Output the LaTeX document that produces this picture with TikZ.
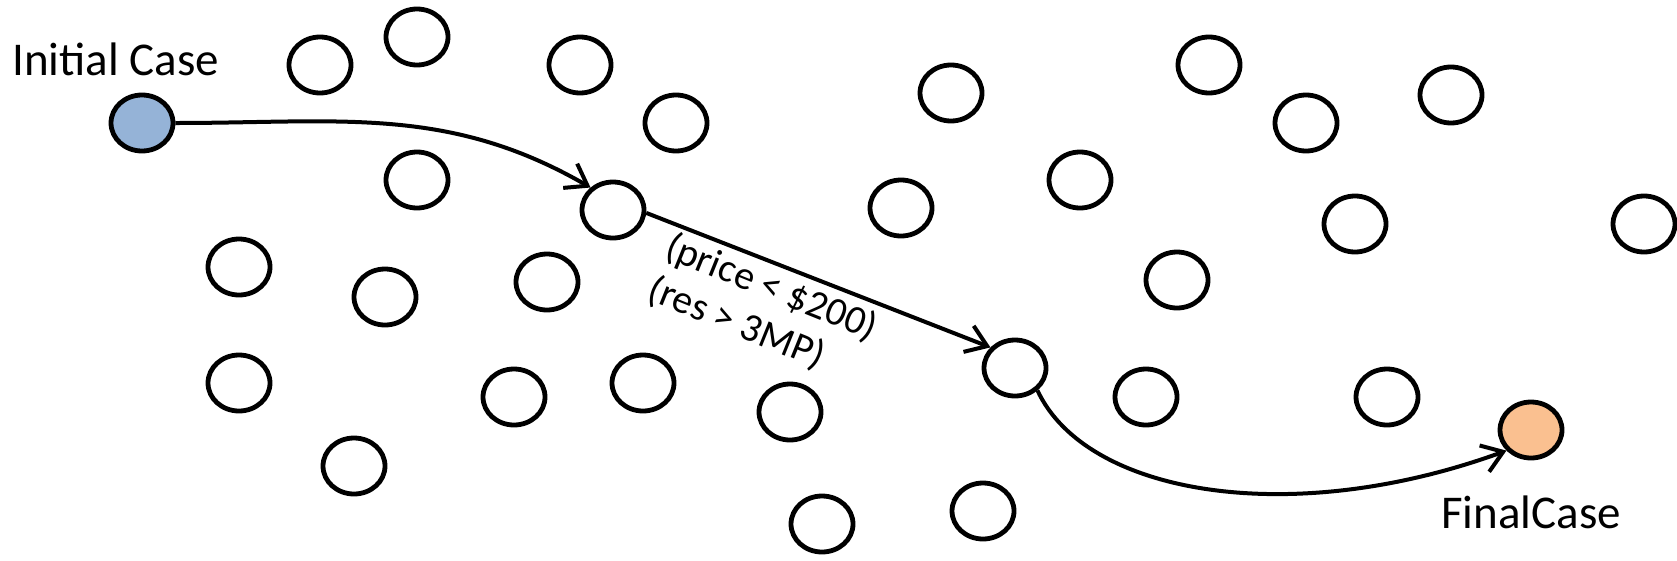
\documentclass[tikz,border=0pt]{standalone}
\usepackage{fontspec}
\setmainfont{Carlito}
\usetikzlibrary{shapes.geometric,arrows.meta}
\definecolor{startblue}{RGB}{149,179,215}
\definecolor{endorange}{RGB}{250,192,144}
\begin{document}
\begin{tikzpicture}[x=1pt,y=1pt,
  state/.style={ellipse, draw=black, line width=4.8pt, minimum width=62pt,
    minimum height=56pt, inner sep=0pt, fill=white},
  startstate/.style={state, fill=startblue},
  endstate/.style={state, fill=endorange},
  move/.style={line width=4pt, -{Straight Barb[length=20pt,width=28pt]}},
  caption/.style={font=\fontsize{47}{56}\selectfont, inner sep=0pt, anchor=base west},
  condition/.style={font=\fontsize{40}{46}\selectfont, align=left, inner sep=0pt, rotate=-22}
]
\useasboundingbox (0,0) rectangle (1677,-560);
\fill[white] (0,0) rectangle (1677,-560);

% start and end states
\node[startstate] (init)  at (142,-123) {};
\node[endstate]   (final) at (1531,-430) {};

% states on the path
\node[state] (n1) at (613,-210) {};
\node[state] (n2) at (1015,-368) {};

% remaining states of the space
\node[state] (s1)  at (320,-65) {};
\node[state] (s2)  at (417,-37) {};
\node[state] (s3)  at (580,-65) {};
\node[state] (s4)  at (676,-123) {};
\node[state] (s5)  at (417,-180) {};
\node[state] (s6)  at (239,-267) {};
\node[state] (s7)  at (385,-297) {};
\node[state] (s8)  at (547,-282) {};
\node[state] (s9)  at (239,-383) {};
\node[state] (s10) at (514,-397) {};
\node[state] (s11) at (643,-383) {};
\node[state] (s12) at (790,-412) {};
\node[state] (s13) at (354,-466) {};
\node[state] (s14) at (822,-524) {};
\node[state] (s15) at (983,-511) {};
\node[state] (s16) at (951,-93) {};
\node[state] (s17) at (901,-208) {};
\node[state] (s18) at (1080,-180) {};
\node[state] (s19) at (1209,-65) {};
\node[state] (s20) at (1306,-123) {};
\node[state] (s21) at (1451,-95) {};
\node[state] (s22) at (1355,-224) {};
\node[state] (s23) at (1644,-224) {};
\node[state] (s24) at (1177,-280) {};
\node[state] (s25) at (1146,-397) {};
\node[state] (s26) at (1387,-397) {};

% labels
\node[caption] (initlabel)  at (12,-75)   {Initial Case};
\node[caption] (finallabel) at (1441,-528) {FinalCase};
\node[condition] (cond) at (763,-309) {(price < \$200)\\(res > 3MP)};

% the path through the space
\draw[move] (init.east) to[out=0,in=150] (n1.135);
\draw[move] (n1.-5) -- (n2.140);
\draw[move] (n2.-45) .. controls +(-65:115) and +(200:230) .. (final.220);
\end{tikzpicture}
\end{document}
